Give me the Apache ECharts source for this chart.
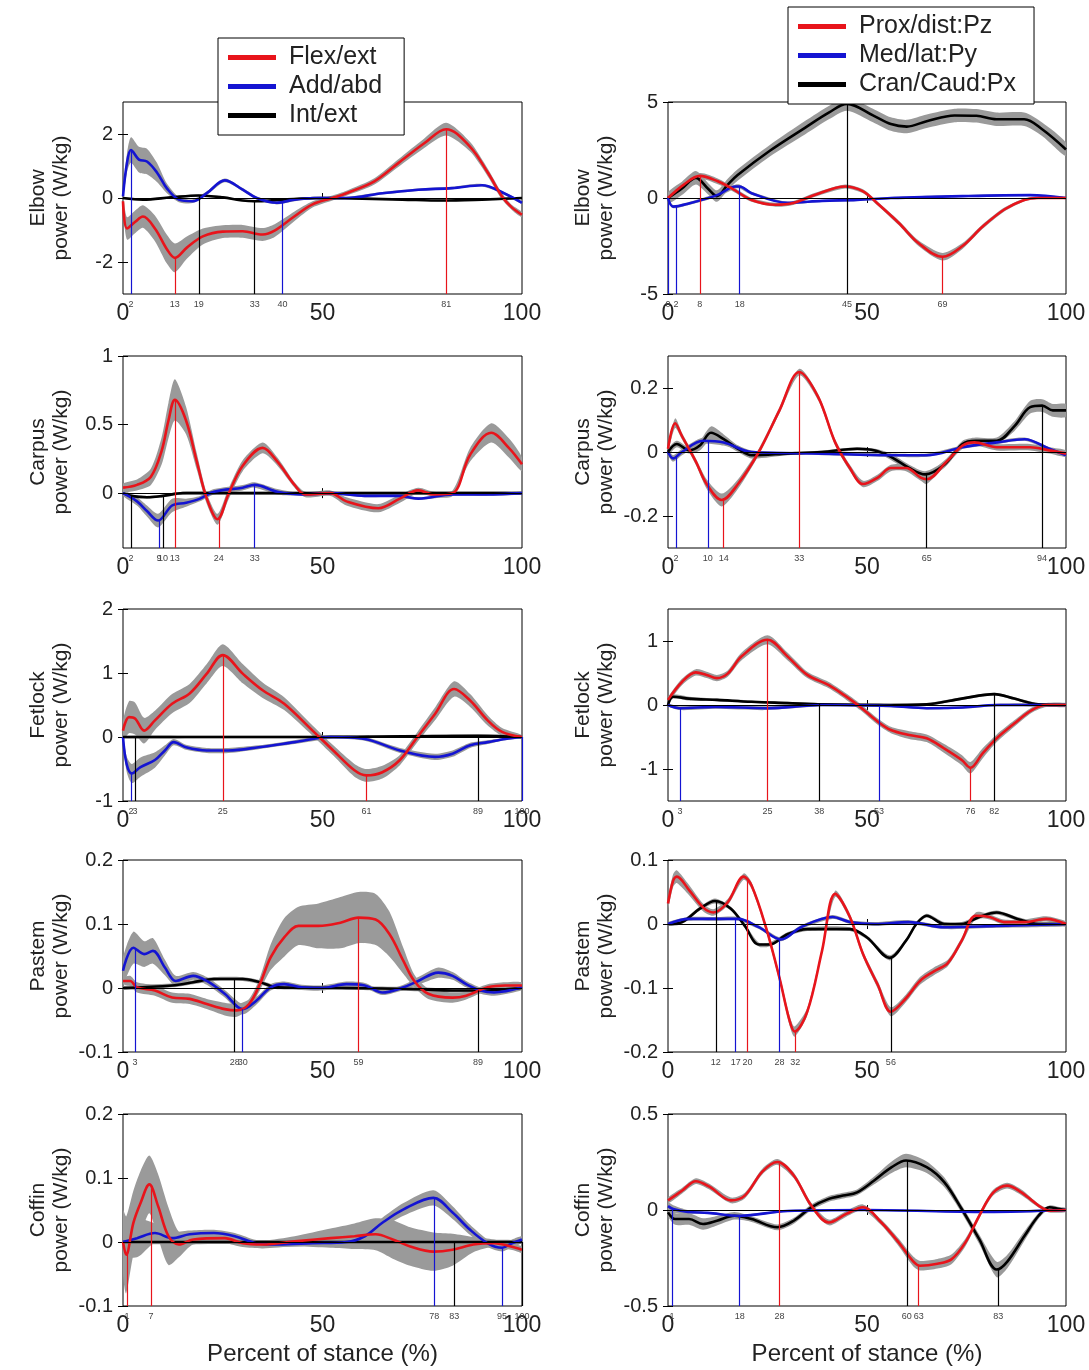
<!DOCTYPE html>
<html lang="en">
  <head>
    <meta charset="UTF-8" />
    <title>Joint powers</title>
    <script src="https://cdn.jsdelivr.net/npm/echarts@6/dist/echarts.min.js"></script>
    <style>
      body { margin: 0; background: #fff; }
    </style>
  </head>
  <body>
    <div id="main" style="width: 1089px; height: 1370px"></div>
  </body>
</html>
<script>
  // points are [percent of stance, mean power, sd]
  const joints = ['Elbow', 'Carpus', 'Fetlock', 'Pastem', 'Coffin']
  const leftNames = ['Flex/ext', 'Add/abd', 'Int/ext']
  const rightNames = ['Prox/dist:Pz', 'Med/lat:Py', 'Cran/Caud:Px']
  const xTicks = [0, 50, 100]

  const leftRanges = [[-3, 3], [-0.4, 1], [-1, 2], [-0.1, 0.2], [-0.1, 0.2]]
  const leftTicks = [[-2, 0, 2], [0, 0.5, 1], [-1, 0, 1, 2], [-0.1, 0, 0.1, 0.2], [-0.1, 0, 0.1, 0.2]]
  const rightRanges = [[-5, 5], [-0.3, 0.3], [-1.5, 1.5], [-0.2, 0.1], [-0.5, 0.5]]
  const rightTicks = [[-5, 0, 5], [-0.2, 0, 0.2], [-1, 0, 1], [-0.2, -0.1, 0, 0.1], [-0.5, 0, 0.5]]

  // ---- Elbow
  const elbowFlex = [[0,-0.1,0.2],[1,-0.95,0.35],[3,-0.75,0.35],[5,-0.58,0.35],[8,-0.95,0.4],[11,-1.6,0.45],[13,-1.87,0.45],[16,-1.55,0.35],[20,-1.2,0.25],[25,-1.05,0.2],[30,-1.04,0.2],[35,-1.14,0.2],[38,-1.02,0.2],[43,-0.57,0.15],[47.5,-0.2,0.1],[52.5,0,0.08],[56,0.15,0.08],[63,0.52,0.1],[69,1.09,0.12],[75.5,1.71,0.15],[81,2.15,0.2],[87,1.6,0.15],[91.5,0.78,0.12],[95,0.05,0.1],[97.5,-0.3,0.08],[100,-0.52,0.08]]
  const elbowAdd = [[0,0.05,0.1],[1,1.1,0.3],[2,1.5,0.4],[4,1.2,0.4],[6,1.14,0.4],[8.5,0.8,0.3],[11,0.3,0.15],[14,-0.05,0.08],[17.5,-0.1,0.06],[21,0.15,0.06],[25.5,0.55,0.06],[30,0.26,0.05],[33.5,0,0.05],[38.5,-0.15,0.05],[43,-0.05,0.05],[48,0,0.04],[56,0,0.04],[65,0.15,0.04],[74,0.26,0.04],[82.5,0.31,0.04],[90,0.4,0.04],[95.5,0.15,0.04],[100,-0.15,0.04]]
  const elbowInt = [[0,0,0.03],[5,-0.05,0.03],[12,0.02,0.03],[19,0.08,0.03],[25,0.02,0.03],[30,-0.08,0.03],[33,-0.1,0.03],[40,-0.05,0.03],[50,0,0.03],[60,-0.02,0.03],[70,-0.05,0.03],[80,-0.08,0.03],[90,-0.05,0.03],[100,0,0.03]]
  const elbowPz = [[0,0,0.1],[4,0.7,0.15],[8,1.15,0.15],[12.5,0.87,0.15],[16,0.5,0.12],[21,-0.1,0.1],[27,-0.35,0.1],[31.5,-0.26,0.1],[37,0.17,0.1],[44.5,0.6,0.1],[49,0.35,0.1],[52.5,-0.26,0.1],[58,-1.3,0.12],[63,-2.36,0.15],[69,-3.06,0.2],[74,-2.5,0.15],[79,-1.5,0.12],[84.5,-0.6,0.1],[89.5,-0.1,0.08],[93,0,0.05],[100,0,0.05]]
  const elbowPy = [[0,0,0.05],[1.3,-0.45,0.08],[5,-0.3,0.08],[12.3,0.15,0.1],[17,0.6,0.1],[18,0.6,0.1],[21,0.25,0.08],[30,-0.25,0.06],[38.7,-0.15,0.05],[47.5,-0.1,0.05],[56,0,0.05],[74,0.1,0.05],[91,0.15,0.05],[100,0,0.05]]
  const elbowPx = [[0,0,0.3],[3.5,0.5,0.35],[7,1.05,0.35],[10,0.5,0.3],[12.3,0.1,0.3],[15,0.7,0.3],[17.5,1.2,0.3],[25.5,2.45,0.3],[34.5,3.67,0.35],[40.5,4.46,0.35],[45,4.9,0.35],[51.5,4.3,0.35],[56,3.85,0.35],[60,3.72,0.35],[65,4.0,0.35],[72,4.3,0.35],[77.5,4.28,0.35],[82.5,4.1,0.35],[89.5,4.1,0.35],[94,3.58,0.35],[100,2.53,0.35]]

  // ---- Carpus
  const carpusFlex = [[0,0.04,0.03],[3.5,0.06,0.04],[7,0.12,0.06],[9.7,0.31,0.1],[11.4,0.53,0.13],[13,0.68,0.15],[15.8,0.53,0.1],[18.5,0.23,0.06],[21,-0.04,0.04],[23.7,-0.19,0.04],[26.4,-0.01,0.04],[30,0.2,0.04],[35,0.33,0.04],[38.7,0.23,0.03],[43,0.06,0.02],[45.7,-0.01,0.02],[52,0,0.02],[56,-0.06,0.03],[64,-0.11,0.03],[69.4,-0.04,0.03],[74,0.02,0.02],[78,-0.01,0.02],[82.6,0,0.02],[87,0.28,0.05],[92.3,0.44,0.07],[96.7,0.33,0.07],[100,0.21,0.05]]
  const carpusAdd = [[0,0,0.02],[3.5,-0.06,0.03],[6,-0.13,0.04],[8.8,-0.2,0.05],[12.3,-0.09,0.05],[15.8,-0.07,0.03],[19.3,-0.04,0.02],[22.8,0.01,0.02],[30,0.04,0.02],[33,0.06,0.02],[38.7,0.01,0.02],[44.8,-0.01,0.01],[52,0,0.01],[60.6,-0.02,0.01],[69,-0.02,0.01],[74,-0.04,0.01],[82.6,-0.01,0.01],[91,-0.01,0.01],[100,0,0.01]]
  const carpusInt = [[0,0,0.01],[2,-0.02,0.01],[6,-0.03,0.01],[10,-0.02,0.01],[15,0,0.01],[30,0,0.01],[60,0,0.01],[100,0,0.01]]
  const carpusPz = [[0,0.01,0.01],[1.8,0.09,0.015],[3.5,0.05,0.01],[7,-0.03,0.01],[9.7,-0.1,0.015],[13.5,-0.15,0.02],[17.6,-0.1,0.015],[22.8,0,0.01],[28,0.13,0.01],[33,0.25,0.01],[37.8,0.17,0.01],[42,0.03,0.01],[45.7,-0.05,0.01],[49,-0.1,0.01],[52.7,-0.08,0.01],[56,-0.05,0.01],[59.8,-0.05,0.01],[63.5,-0.08,0.01],[65,-0.085,0.015],[70,-0.03,0.01],[74,0.02,0.01],[77,0.03,0.01],[82.6,0.015,0.01],[91,0.015,0.01],[95.8,0.005,0.01],[100,-0.005,0.01]]
  const carpusPy = [[0,0,0.01],[1.3,-0.02,0.01],[3.5,0,0.01],[8.8,0.035,0.01],[14,0.03,0.01],[21,0,0.005],[38.7,-0.005,0.005],[56,-0.01,0.005],[65,-0.01,0.005],[74,0.015,0.005],[82.6,0.03,0.005],[89.6,0.04,0.005],[95.8,0.01,0.005],[100,-0.01,0.005]]
  const carpusPx = [[0,0,0.01],[2.2,0.025,0.01],[5.3,0.005,0.01],[8,0.02,0.015],[10.8,0.06,0.02],[14,0.04,0.015],[17.6,0.01,0.01],[21,-0.01,0.01],[30,-0.005,0.005],[38.7,0,0.005],[47.5,0.01,0.005],[52,0.005,0.005],[56,-0.015,0.01],[60.6,-0.05,0.01],[64.6,-0.07,0.01],[69.4,-0.04,0.01],[74,0.025,0.01],[77.3,0.035,0.01],[82.6,0.035,0.01],[87,0.08,0.015],[91,0.14,0.02],[94,0.145,0.02],[96.7,0.13,0.02],[100,0.13,0.02]]

  // ---- Fetlock
  const fetlockFlex = [[0,0.1,0.15],[1.5,0.31,0.25],[3,0.29,0.25],[5.3,0.1,0.2],[8,0.26,0.15],[12.3,0.52,0.15],[16.7,0.68,0.15],[21,0.99,0.15],[25,1.28,0.17],[30,0.99,0.15],[35,0.73,0.12],[40.4,0.52,0.1],[47.5,0.1,0.08],[52.7,-0.21,0.08],[58,-0.52,0.1],[61,-0.6,0.1],[65,-0.55,0.1],[69.4,-0.36,0.08],[73.8,0,0.08],[78.2,0.36,0.1],[83,0.75,0.12],[87,0.57,0.1],[91.4,0.26,0.08],[95,0.08,0.06],[100,0,0.03]]
  const fetlockAdd = [[0,0,0.05],[0.9,-0.42,0.12],[2.2,-0.57,0.15],[4.4,-0.47,0.15],[8,-0.36,0.12],[10.5,-0.21,0.08],[12.7,-0.08,0.05],[15.8,-0.16,0.04],[21,-0.21,0.04],[26.4,-0.21,0.04],[34,-0.16,0.03],[43,-0.08,0.03],[52,0,0.03],[60.6,-0.03,0.03],[69.4,-0.21,0.04],[78.2,-0.31,0.05],[82.6,-0.26,0.05],[87,-0.13,0.04],[91.4,-0.08,0.03],[95.8,-0.03,0.02],[100,0,0.02]]
  const fetlockInt = [[0,0,0.02],[20,0,0.02],[50,0,0.02],[70,0.01,0.02],[89,0.02,0.02],[100,0,0.02]]
  const fetlockPz = [[0,0.08,0.04],[3.5,0.36,0.05],[7,0.51,0.05],[9.7,0.47,0.05],[12.3,0.42,0.05],[15,0.49,0.05],[18.5,0.76,0.06],[25,1.02,0.07],[30,0.76,0.06],[35,0.47,0.05],[40.4,0.31,0.05],[44.8,0.13,0.05],[48.3,-0.03,0.05],[52.7,-0.26,0.05],[56,-0.39,0.05],[60.6,-0.47,0.06],[65,-0.52,0.06],[69.4,-0.68,0.07],[73.8,-0.86,0.08],[76,-0.98,0.09],[79,-0.76,0.08],[82.6,-0.52,0.06],[87,-0.29,0.05],[91.4,-0.08,0.04],[95,0,0.03],[100,0,0.03]]
  const fetlockPy = [[0,0,0.02],[3,-0.05,0.03],[12,-0.03,0.03],[24.6,-0.05,0.03],[38.7,0,0.02],[56,-0.015,0.02],[65,-0.05,0.02],[74,-0.04,0.02],[82.6,0,0.02],[100,0,0.02]]
  const fetlockPx = [[0,0,0.02],[1.3,0.13,0.03],[5.3,0.1,0.03],[12.3,0.08,0.02],[21,0.05,0.02],[30,0.03,0.02],[38.7,0.01,0.02],[56,0,0.02],[65,0.01,0.02],[73.8,0.1,0.02],[82,0.17,0.02],[87,0.1,0.02],[93,0.01,0.02],[100,0,0.02]]

  // ---- Pastem
  const pastemFlex = [[0,0.011,0.005],[1.8,0.011,0.008],[3.5,0.001,0.008],[8,-0.004,0.008],[12.3,-0.015,0.008],[16.7,-0.017,0.008],[21,-0.025,0.008],[25.5,-0.033,0.01],[28.5,-0.035,0.01],[31.6,-0.025,0.008],[34.3,0.006,0.01],[37,0.048,0.02],[40.4,0.079,0.03],[44,0.097,0.03],[49,0.097,0.035],[54.5,0.102,0.04],[59,0.11,0.04],[63.3,0.107,0.04],[66.8,0.084,0.035],[70.3,0.042,0.02],[73,0.011,0.01],[76.5,-0.009,0.008],[82.6,-0.015,0.008],[86,-0.012,0.006],[91.4,0.001,0.005],[95.8,0.004,0.005],[100,0.004,0.005]]
  const pastemAdd = [[0,0.027,0.02],[2.6,0.063,0.025],[5.3,0.053,0.02],[7.5,0.058,0.02],[10.5,0.032,0.012],[13.2,0.011,0.008],[17.6,0.019,0.006],[21,0.011,0.006],[25.5,-0.009,0.006],[30,-0.033,0.008],[33.4,-0.02,0.006],[37,0.001,0.005],[40.4,0.006,0.004],[44.8,0.001,0.004],[50,0,0.004],[56,0.006,0.004],[60.6,0.004,0.004],[65,-0.007,0.004],[70.3,0.001,0.004],[74,0.011,0.006],[79,0.024,0.008],[82.6,0.019,0.006],[86,0.006,0.005],[89.6,-0.004,0.005],[93,-0.007,0.005],[100,0.001,0.004]]
  const pastemInt = [[0,0,0.003],[12.3,0.004,0.003],[17.6,0.009,0.003],[22.8,0.014,0.003],[30,0.014,0.003],[34.3,0.009,0.003],[38.7,0.001,0.003],[56,0,0.003],[74,-0.002,0.003],[82.6,-0.004,0.003],[89,-0.004,0.003],[100,0,0.003]]
  const pastemPz = [[0,0.032,0.008],[1.3,0.068,0.01],[2.2,0.074,0.01],[5.3,0.053,0.008],[8.8,0.026,0.006],[11.4,0.018,0.005],[15,0.034,0.005],[19,0.074,0.005],[21,0.06,0.005],[24.6,-0.005,0.005],[28,-0.084,0.006],[30.5,-0.15,0.008],[31.8,-0.168,0.008],[35,-0.137,0.006],[38.7,-0.042,0.005],[42,0.047,0.005],[45.7,0.011,0.005],[49,-0.047,0.005],[52.7,-0.095,0.006],[56,-0.137,0.007],[59.8,-0.116,0.006],[63.3,-0.089,0.006],[66.8,-0.074,0.006],[70.3,-0.061,0.005],[73.8,-0.026,0.005],[77.3,0.013,0.005],[80.8,0.011,0.004],[84.4,0.003,0.004],[89.6,0.003,0.004],[95,0.008,0.004],[100,0,0.004]]
  const pastemPy = [[0,0,0.003],[5.3,0.008,0.003],[12.3,0.008,0.003],[17.6,0.008,0.003],[22.8,-0.005,0.003],[28.4,-0.024,0.003],[33.4,-0.005,0.003],[41.3,0.011,0.003],[45.7,0.003,0.003],[52,0,0.003],[60.6,0.003,0.003],[69.4,-0.005,0.003],[82.6,-0.003,0.003],[100,0,0.003]]
  const pastemPx = [[0,0,0.003],[3.5,0.003,0.003],[8,0.024,0.003],[11.8,0.036,0.004],[15.8,0.024,0.003],[19.3,-0.003,0.003],[22.8,-0.032,0.003],[25.5,-0.032,0.003],[30,-0.016,0.003],[35,-0.008,0.003],[45.7,-0.008,0.003],[50,-0.021,0.003],[55.7,-0.053,0.004],[59.8,-0.026,0.003],[62.4,0,0.003],[65,0.013,0.003],[69.4,0,0.003],[73.8,0,0.003],[78.2,0.011,0.003],[82.6,0.018,0.003],[87.8,0.008,0.003],[93,0,0.003],[100,0,0.003]]

  // ---- Coffin
  const coffinFlex = [[0,0,0.05],[0.8,-0.02,0.06],[2.6,0.03,0.05],[4.4,0.061,0.05],[6.6,0.09,0.045],[8.8,0.056,0.05],[11.4,0.009,0.045],[14,-0.004,0.02],[17.6,0.004,0.008],[25.5,0.006,0.008],[30,-0.002,0.006],[35,-0.004,0.006],[43,0.001,0.008],[52,0.006,0.015],[58,0.009,0.02],[63.3,0.012,0.025],[67.6,0.004,0.03],[72,-0.007,0.03],[77.8,-0.015,0.03],[82.6,-0.012,0.025],[87.8,-0.004,0.012],[93,-0.002,0.006],[98.4,-0.009,0.005],[100,-0.012,0.005]]
  const coffinAdd = [[0,0,0.02],[3.5,0.006,0.03],[8,0.014,0.015],[12.3,0.006,0.01],[16.7,0.012,0.006],[22.8,0.014,0.005],[28,0.009,0.005],[33.4,-0.002,0.005],[38.7,-0.004,0.004],[47.5,-0.002,0.004],[56,0,0.005],[60.6,0.009,0.006],[65,0.03,0.008],[70.3,0.051,0.01],[77.8,0.069,0.012],[82.6,0.046,0.01],[87,0.019,0.008],[91.4,-0.002,0.006],[95,-0.009,0.006],[97.5,-0.002,0.006],[100,0.004,0.005]]
  const coffinInt = [[0,0,0.003],[25,0,0.003],[50,0,0.003],[75,0,0.003],[100,0,0.003]]
  const coffinPz = [[0,0.05,0.015],[3.5,0.1,0.015],[7,0.15,0.015],[10.5,0.12,0.015],[15.8,0.05,0.015],[19.3,0.075,0.015],[23.7,0.2,0.015],[27.5,0.25,0.015],[31.6,0.18,0.015],[36,0.023,0.015],[40.4,-0.065,0.015],[44.8,-0.02,0.015],[49,0.014,0.015],[53.6,-0.065,0.015],[58,-0.17,0.02],[61.5,-0.265,0.025],[63.3,-0.29,0.025],[67.7,-0.28,0.025],[71.2,-0.257,0.025],[74.7,-0.17,0.02],[78.2,-0.03,0.015],[81.7,0.09,0.015],[85.2,0.127,0.015],[88.8,0.092,0.015],[93.1,0.023,0.01],[95.8,-0.003,0.01],[100,0,0.01]]
  const coffinPy = [[0,0.02,0.02],[1.3,0.005,0.02],[5,-0.01,0.01],[10,-0.015,0.005],[18,-0.03,0.005],[30,-0.005,0.005],[50,0,0.005],[80,-0.01,0.005],[100,0,0.005]]
  const coffinPx = [[0,-0.012,0.02],[1.8,-0.047,0.03],[5.3,-0.047,0.03],[8.8,-0.073,0.03],[12.3,-0.056,0.025],[16.7,-0.03,0.02],[21,-0.047,0.015],[27.5,-0.09,0.015],[31.6,-0.056,0.015],[36,0.014,0.015],[40.4,0.058,0.015],[44,0.075,0.015],[47.5,0.092,0.015],[51.8,0.154,0.02],[56.2,0.223,0.03],[59.8,0.258,0.035],[65,0.223,0.03],[69.4,0.145,0.025],[73.8,0.005,0.02],[78.2,-0.152,0.025],[82.6,-0.31,0.04],[85.2,-0.27,0.035],[89.6,-0.134,0.025],[93.1,-0.03,0.015],[95.8,0.014,0.01],[98.4,0.005,0.01],[100,0,0.01]]

  // percent of stance where the vertical event lines are drawn (red, blue, black)
  const leftMarks = [
    [[13, 81], [2, 40], [19, 33]],
    [[13, 24], [9, 33], [2, 10]],
    [[25, 61], [2, 100], [3, 89]],
    [[59], [3, 30], [28, 89]],
    [[1, 7], [78, 95], [83, 100]]
  ]
  const rightMarks = [
    [[8, 69], [0, 2, 18], [45]],
    [[14, 33], [2, 10], [65, 94]],
    [[25, 76], [3, 53], [38, 82]],
    [[20, 32], [17, 28], [12, 56]],
    [[28, 63], [1, 18], [60, 83]]
  ]

  const leftCurves = [
    [elbowFlex, elbowAdd, elbowInt],
    [carpusFlex, carpusAdd, carpusInt],
    [fetlockFlex, fetlockAdd, fetlockInt],
    [pastemFlex, pastemAdd, pastemInt],
    [coffinFlex, coffinAdd, coffinInt]
  ]
  const rightCurves = [
    [elbowPz, elbowPy, elbowPx],
    [carpusPz, carpusPy, carpusPx],
    [fetlockPz, fetlockPy, fetlockPx],
    [pastemPz, pastemPy, pastemPx],
    [coffinPz, coffinPy, coffinPx]
  ]

  const colors = ['#e8141b', '#1414d2', '#000000']
  const font = 'Liberation Sans, Arial, sans-serif'
  const gridTops = [102, 356, 609, 860, 1114]

  function valueAt(pts, x) {
    for (let i = 1; i < pts.length; i++) {
      if (x <= pts[i][0]) {
        const a = pts[i - 1]
        const b = pts[i]
        const t = (x - a[0]) / (b[0] - a[0])
        return a[1] + t * (b[1] - a[1])
      }
    }
    return pts[pts.length - 1][1]
  }

  const grids = []
  const xAxes = []
  const yAxes = []
  const xTopAxes = []
  const yRightAxes = []
  const series = []

  // build panel list: 0..4 left column, 5..9 right column
  const panels = []
  for (let col = 0; col < 2; col++) {
    for (let row = 0; row < 5; row++) {
      panels.push({
        row,
        col,
        range: col === 0 ? leftRanges[row] : rightRanges[row],
        ticks: col === 0 ? leftTicks[row] : rightTicks[row],
        curves: col === 0 ? leftCurves[row] : rightCurves[row],
        marks: col === 0 ? leftMarks[row] : rightMarks[row],
        names: col === 0 ? leftNames : rightNames
      })
    }
  }

  const tickStyle = { show: true, inside: true, length: 5, lineStyle: { color: '#000' } }

  panels.forEach((p, g) => {
    grids.push({
      left: p.col === 0 ? 123 : 668,
      width: p.col === 0 ? 399 : 398,
      top: gridTops[p.row],
      height: 192,
      show: true,
      borderColor: '#000',
      borderWidth: 1,
      backgroundColor: '#fff'
    })

    const bottomRow = p.row === 4
    xAxes.push({
      type: 'value',
      gridIndex: g,
      min: 0,
      max: 100,
      axisLine: { show: false },
      splitLine: { show: false },
      axisTick: Object.assign({ customValues: [50] }, tickStyle),
      axisLabel: { customValues: xTicks, fontSize: 23, color: '#222', margin: 8, fontFamily: font },
      name: bottomRow ? 'Percent of stance (%)' : '',
      nameLocation: 'middle',
      nameGap: 36,
      nameTextStyle: { fontSize: 24, color: '#222', fontFamily: font }
    })
    xTopAxes.push({
      type: 'value',
      gridIndex: g,
      position: 'top',
      min: 0,
      max: 100,
      axisLine: { show: false },
      splitLine: { show: false },
      axisTick: Object.assign({ customValues: [50] }, tickStyle),
      axisLabel: { show: false }
    })
    yAxes.push({
      type: 'value',
      gridIndex: g,
      min: p.range[0],
      max: p.range[1],
      axisLine: { show: false },
      splitLine: { show: false },
      axisTick: Object.assign({ customValues: p.ticks }, tickStyle),
      axisLabel: { customValues: p.ticks, fontSize: 20, color: '#222', margin: 10, fontFamily: font },
      name: joints[p.row] + '\npower (W/kg)',
      nameLocation: 'middle',
      nameRotate: 90,
      nameGap: 50,
      nameTextStyle: { fontSize: 21, lineHeight: 23, color: '#222', fontFamily: font }
    })
    yRightAxes.push({
      type: 'value',
      gridIndex: g,
      position: 'right',
      min: p.range[0],
      max: p.range[1],
      axisLine: { show: false },
      splitLine: { show: false },
      axisTick: Object.assign({ customValues: p.ticks }, tickStyle),
      axisLabel: { show: false }
    })

    const order = [2, 1, 0]
    // gray sd bands first
    order.forEach((c) => {
      const pts = p.curves[c]
      series.push({
        type: 'custom',
        xAxisIndex: g,
        yAxisIndex: g,
        silent: true,
        clip: true,
        z: 1,
        data: pts.map((d) => [d[0], d[1] - d[2], d[1] + d[2]]),
        encode: { x: 0, y: [1, 2] },
        renderItem: function (params, api) {
          if (params.dataIndex !== 0) return null
          const up = pts.map((d) => api.coord([d[0], d[1] + d[2]]))
          const lo = pts.map((d) => api.coord([d[0], d[1] - d[2]])).reverse()
          return {
            type: 'polygon',
            shape: { points: up.concat(lo), smooth: 0.25 },
            style: { fill: '#9a9a9a' }
          }
        }
      })
    })

    order.forEach((c) => {
      const pts = p.curves[c]
      const markData = p.marks[c].map((x) => [
        { coord: [x, p.range[0]], name: String(x) },
        { coord: [x, valueAt(pts, x)] }
      ])
      if (c === 2) {
        markData.push({ yAxis: 0, label: { show: false }, lineStyle: { color: '#000', width: 1.2 } })
      }
      series.push({
        type: 'line',
        name: p.names[c],
        xAxisIndex: g,
        yAxisIndex: g,
        data: pts.map((d) => [d[0], d[1]]),
        showSymbol: false,
        smooth: 0.35,
        z: 3,
        lineStyle: { color: colors[c], width: 2.6 },
        itemStyle: { color: colors[c] },
        markLine: {
          silent: true,
          symbol: ['none', 'none'],
          lineStyle: { color: colors[c], width: 1.2, type: 'solid' },
          label: {
            show: true,
            position: 'start',
            formatter: '{b}',
            fontSize: 9,
            color: '#444',
            distance: 6,
            fontFamily: font
          },
          data: markData
        }
      })
    })
  })

  const legendBase = {
    orient: 'vertical',
    icon: 'rect',
    itemWidth: 48,
    itemHeight: 5,
    itemGap: 4,
    selectedMode: false,
    backgroundColor: '#fff',
    borderColor: '#000',
    borderWidth: 1,
    borderRadius: 0,
    z: 10,
    textStyle: { fontSize: 25, color: '#222', lineHeight: 24, fontFamily: font, padding: [0, 0, 0, 8] }
  }

  const chartInstance = echarts.init(document.getElementById('main'))

  const option = {
    animation: false,
    backgroundColor: '#fff',
    textStyle: { fontFamily: font },
    legend: [
      Object.assign({}, legendBase, { data: leftNames, left: 218, top: 38, padding: [7, 22, 7, 10] }),
      Object.assign({}, legendBase, { data: rightNames, left: 788, top: 7, padding: [7, 18, 7, 10] })
    ],
    grid: grids,
    xAxis: xAxes.concat(xTopAxes),
    yAxis: yAxes.concat(yRightAxes),
    series: series
  }

  chartInstance.setOption(option)

  window.addEventListener('resize', () => {
    chartInstance.resize()
  })
</script>
